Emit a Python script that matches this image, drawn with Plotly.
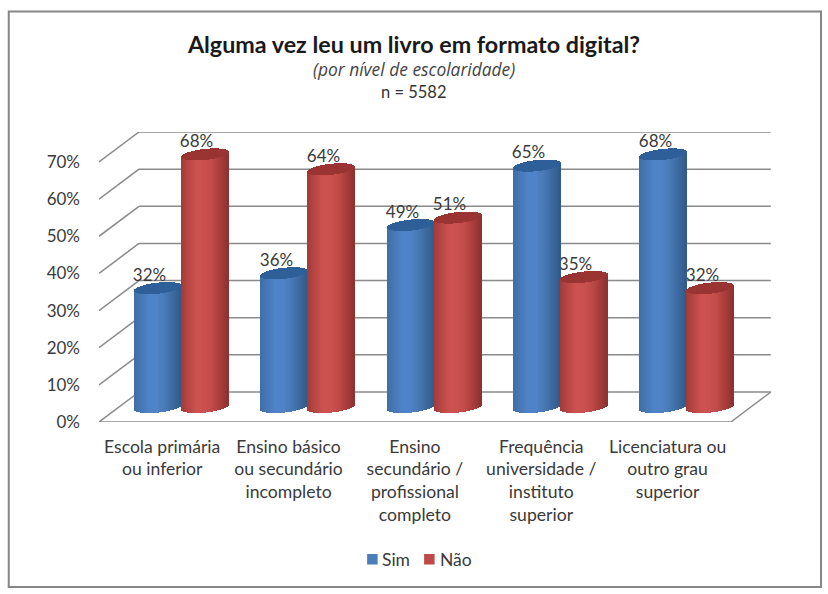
import math
import plotly.graph_objects as go

categories = [
    "Escola primária<br>ou inferior",
    "Ensino básico<br>ou secundário<br>incompleto",
    "Ensino<br>secundário /<br>profissional<br>completo",
    "Frequência<br>universidade /<br>instituto<br>superior",
    "Licenciatura ou<br>outro grau<br>superior",
]
sim = [32, 36, 49, 65, 68]
nao = [68, 64, 51, 35, 32]
y_ticks = [0, 10, 20, 30, 40, 50, 60, 70]

W, H = 828, 594
LEFT, RIGHT, TOP, BOTTOM = 98.8, 771.0, 132.0, 422.0
PX_X = 126.4          # pixels per category
PX_Y = 3.714          # pixels per percentage point
DEPTH_X = 40.0 / PX_X
DEPTH_Y = 30.0 / PX_Y
MID_X = 19.5 / PX_X   # cylinders stand in mid depth
MID_Y = 15.0 / PX_Y
R_X = 23.5 / PX_X     # cylinder radius
ELL = 5.5 / PX_Y      # cap half height
TILT = 2.5 / PX_Y     # cap tilt
FONT = "Lato"
GRID = "#8a8a8a"
TXT = "#3a3a3a"

x_range = [-0.5, -0.5 + (RIGHT - LEFT) / PX_X]
y_range = [0, (BOTTOM - TOP) / PX_Y]


def lerp_hex(a, b, t):
    ca = [int(a[i:i + 2], 16) for i in (1, 3, 5)]
    cb = [int(b[i:i + 2], 16) for i in (1, 3, 5)]
    return "#" + "".join(f"{round(p + (q - p) * t):02x}" for p, q in zip(ca, cb))


def shade(u, stops):
    # stops along the cylinder from its left edge to its right edge
    t = (u + 1) / 2 * (len(stops) - 1)
    i = min(int(t), len(stops) - 2)
    return lerp_hex(stops[i], stops[i + 1], t - i)


BLUE = ["#3f6ea6", "#4779b8", "#4f83c8", "#4f82c6", "#4878b4", "#3d699f", "#315a8a"]
RED = ["#a03b39", "#b94745", "#cc5250", "#cb5150", "#bf4a48", "#a83d3b", "#8c3130"]
BLUE_CAP = "#2f5f98"
RED_CAP = "#9a3432"


def cylinder_traces(values, side, stops, cap_color, name):
    n = 47
    bx, by, bb, bc, cy, cb = [], [], [], [], [], []
    for i, v in enumerate(values):
        center = i + MID_X + side * R_X
        for k in range(n):
            u = -1 + (2 * k + 1) / n
            s = math.sqrt(max(0, 1 - u * u))
            low = MID_Y + TILT * u - ELL * s
            bx.append(center + u * R_X)
            by.append(v)
            bb.append(low)
            bc.append(shade(u, stops))
            cy.append(2 * ELL * s)
            cb.append(v + low)
    width = 1.6 / PX_X
    body = go.Bar(x=bx, y=by, base=bb, width=width, name=name,
                  marker=dict(color=bc, line=dict(width=0)), showlegend=False,
                  hoverinfo="skip")
    cap = go.Bar(x=bx, y=cy, base=cb, width=width, name=name + " topo",
                 marker=dict(color=cap_color, line=dict(width=0)), showlegend=False,
                 hoverinfo="skip")
    return [body, cap]


def label_trace(values, side, name):
    # transparent bars that only carry the value labels, drawn under the cylinders
    return go.Bar(
        x=[i + MID_X + side * R_X - 8.5 / PX_X for i in range(len(values))],
        y=[v + MID_Y + 0.1 for v in values],
        width=2 * R_X,
        text=[f"{v}%" for v in values],
        textposition="outside",
        cliponaxis=False,
        constraintext="none",
        textfont=dict(family=FONT, size=17, color=TXT),
        marker=dict(color="rgba(0,0,0,0)", line=dict(width=0)),
        showlegend=False,
        hoverinfo="skip",
        name=name + " rótulos",
    )


fig = go.Figure()
fig.add_trace(label_trace(sim, -1, "Sim"))
fig.add_trace(label_trace(nao, 1, "Não"))
fig.add_traces(cylinder_traces(sim, -1, BLUE, BLUE_CAP, "Sim"))
fig.add_traces(cylinder_traces(nao, 1, RED, RED_CAP, "Não"))

x_f0, x_f1 = -0.5, 4.5
x_b0, x_b1 = x_f0 + DEPTH_X, x_f1 + DEPTH_X
line = dict(color=GRID, width=1.5)
shapes = []


def paper_x(p):
    return (p - LEFT) / (RIGHT - LEFT)


def paper_y(p):
    return (BOTTOM - p) / (BOTTOM - TOP)


shapes.append(dict(type="rect", xref="paper", yref="paper", layer="below",
                   x0=paper_x(8.5), x1=paper_x(821), y0=paper_y(587), y1=paper_y(11.5),
                   line=dict(color="#868686", width=2), fillcolor="white"))
for t in y_ticks:
    shapes.append(dict(type="line", xref="x", yref="y", layer="below", line=line,
                       x0=x_f0, y0=t, x1=x_b0, y1=t + DEPTH_Y))
    shapes.append(dict(type="line", xref="x", yref="y", layer="below", line=line,
                       x0=x_b0, y0=t + DEPTH_Y, x1=x_b1, y1=t + DEPTH_Y))
shapes.append(dict(type="line", xref="x", yref="y", layer="below", line=line,
                   x0=x_f0, y0=0, x1=x_f1, y1=0))
shapes.append(dict(type="line", xref="x", yref="y", layer="below", line=line,
                   x0=x_f1, y0=0, x1=x_b1, y1=DEPTH_Y))
# legend swatches
shapes.append(dict(type="rect", xref="paper", yref="paper", layer="above",
                   x0=paper_x(367), x1=paper_x(377.5), y0=paper_y(564.5), y1=paper_y(554),
                   fillcolor="#4a7ebb", line=dict(width=0)))
shapes.append(dict(type="rect", xref="paper", yref="paper", layer="above",
                   x0=paper_x(424), x1=paper_x(434.5), y0=paper_y(564.5), y1=paper_y(554),
                   fillcolor="#be4b48", line=dict(width=0)))


def note(text, x, y, size, color=TXT, anchor="center", family=FONT):
    return dict(text=text, xref="paper", yref="paper", x=paper_x(x), y=paper_y(y),
                xanchor=anchor, yanchor="middle", showarrow=False,
                font=dict(family=family, size=size, color=color))


annotations = [
    note("<i>(por nível de escolaridade)</i>", 414, 69, 17.4, "#444444", family="Open Sans"),
    note("n = 5582", 414, 92, 16.5, "#333333", family="Lato"),
    note("Sim", 380, 559, 17.5, anchor="left"),
    note("Não", 438, 559, 17.5, anchor="left"),
]

fig.update_layout(
    width=W, height=H,
    margin=dict(l=LEFT, r=W - RIGHT, t=TOP, b=H - BOTTOM, pad=0, autoexpand=False),
    paper_bgcolor="white", plot_bgcolor="rgba(0,0,0,0)",
    barmode="overlay", bargap=0,
    showlegend=False,
    title=dict(text="<b>Alguma vez leu um livro em formato digital?</b>",
               x=414 / W, xanchor="center", xref="container",
               y=1 - 45 / H, yanchor="middle", yref="container",
               font=dict(family="Lato", size=23.3, color="#1a1a1a")),
    xaxis=dict(range=x_range, tickmode="array", tickvals=list(range(len(categories))),
               ticktext=categories, showgrid=False, zeroline=False, showline=False,
               ticks="", ticklabelstandoff=12, tickangle=0, fixedrange=True,
               tickfont=dict(family=FONT, size=17.6, color=TXT)),
    yaxis=dict(range=y_range, tickmode="array", tickvals=y_ticks,
               ticktext=[f"{t}%" for t in y_ticks], showgrid=False, zeroline=False,
               showline=False, ticks="", ticklabelstandoff=18, fixedrange=True,
               tickfont=dict(family=FONT, size=17, color=TXT)),
    shapes=shapes,
    annotations=annotations,
)

fig.write_html("out.html", config={"displayModeBar": False},
               post_script="document.body.style.margin='0';document.documentElement.style.overflow='hidden';")
